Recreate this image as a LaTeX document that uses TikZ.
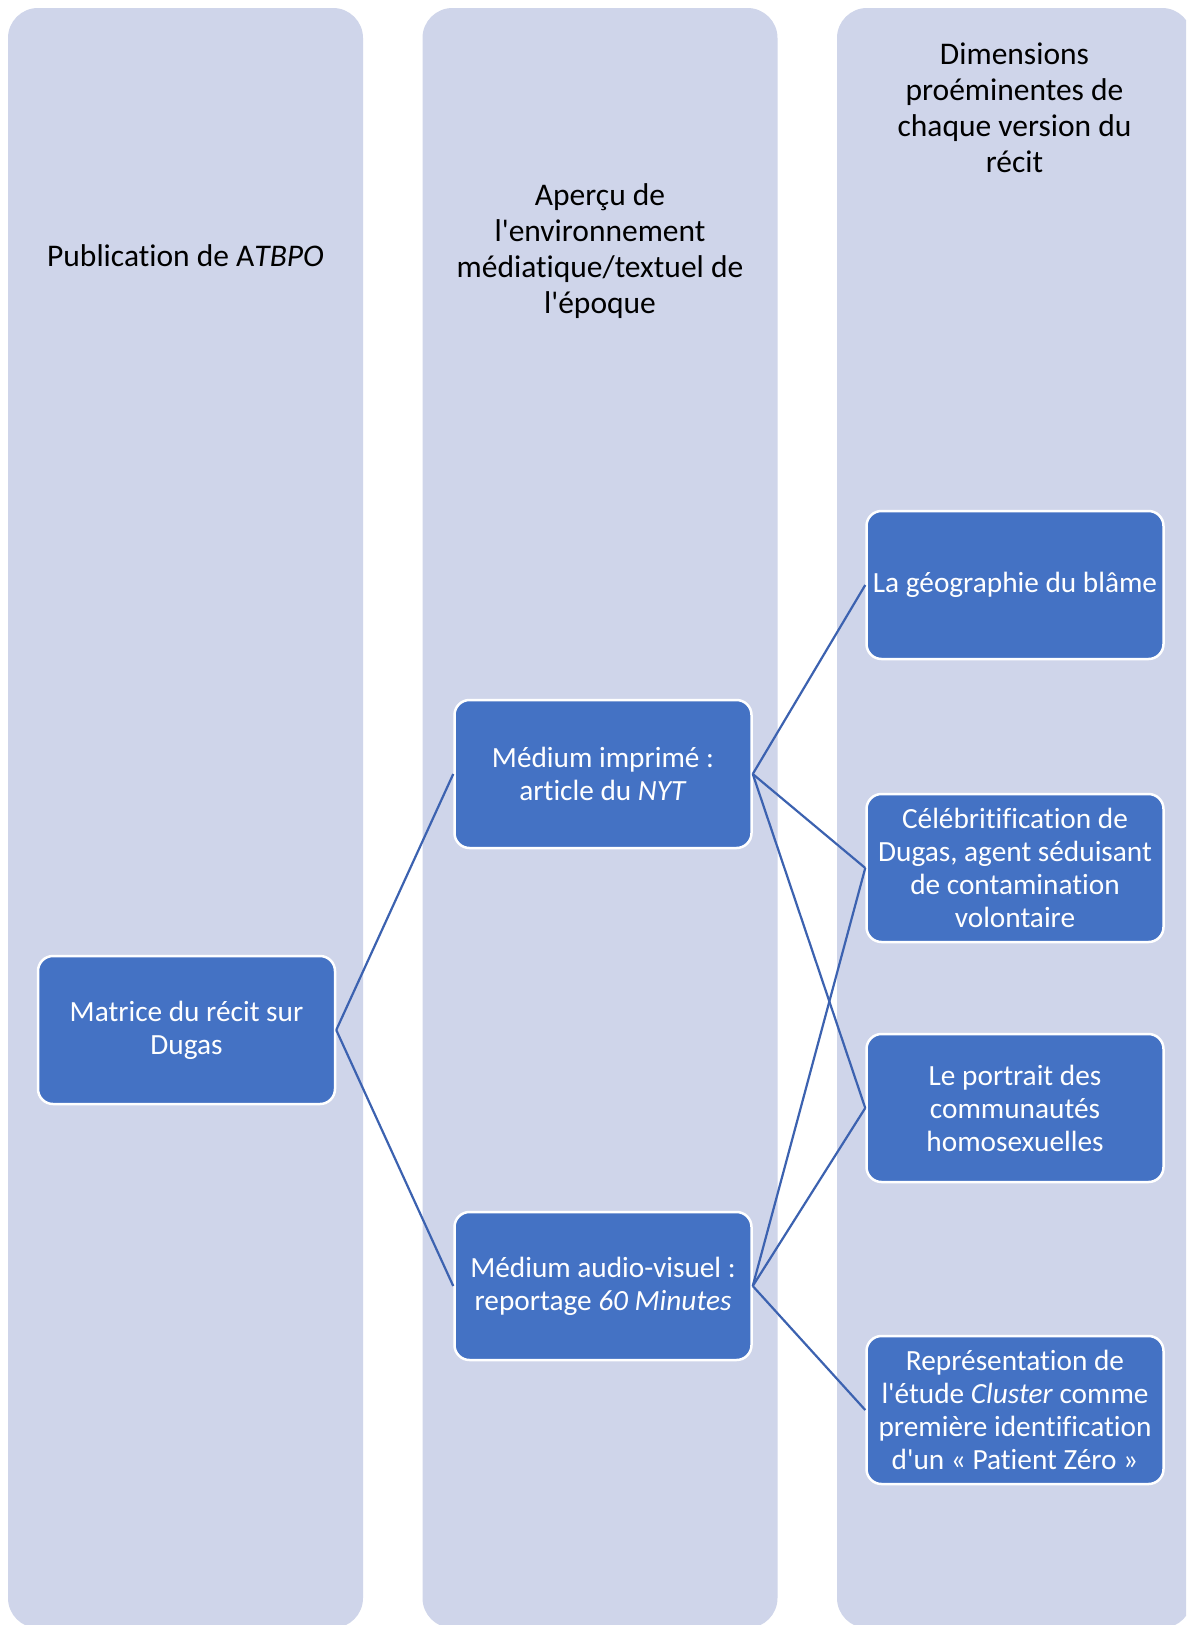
\documentclass[tikz,border=0pt]{standalone}
\usepackage{fontspec}
\setmainfont{Carlito}[Ligatures={NoCommon}]
\usepackage{tikz}

\definecolor{colbg}{HTML}{CFD5EA}
\definecolor{boxblue}{HTML}{4472C4}
\definecolor{linkblue}{HTML}{3C62B0}

\begin{document}
\begin{tikzpicture}[x=1pt, y=-1pt,
    column/.style={rounded corners=30pt, fill=colbg, minimum width=355pt, minimum height=1620pt, inner sep=0pt},
    header/.style={align=center, text=black, font=\fontsize{31.5}{36}\selectfont},
    item/.style={rounded corners=15pt, fill=boxblue, draw=white, line width=2.5pt, minimum width=297pt, minimum height=148pt, align=center, text=white, inner sep=4pt, font=\fontsize{29.3}{33}\selectfont},
    link/.style={draw=linkblue, line width=2.2pt}]
  \fill[white] (0,0) rectangle (1186,1625);
  \clip (0,0) rectangle (1186,1625);

  % the three columns
  \node[column] (colA) at (185.5,818) {};
  \node[column] (colB) at (600,818) {};
  \node[column] (colC) at (1014.5,818) {};

  \node[header] (headA) at (185.5,256) {Publication de A\textit{TBPO}};
  \node[header] (headB) at (600,251) {Aperçu de\\l\textquotesingle environnement\\médiatique/textuel de\\l\textquotesingle époque};
  \node[header] (headC) at (1014.5,108) {Dimensions\\proéminentes de\\chaque version du\\récit};

  % boxes
  \node[item] (matrice) at (186.5,1030) {Matrice du récit sur\\Dugas};
  \node[item] (print) at (603,774) {Médium imprimé :\\article du \textit{NYT}};
  \node[item] (video) at (603,1286) {Médium audio-visuel :\\reportage \textit{60 Minutes}};
  \node[item] (geo) at (1015,585) {La géographie du blâme};
  \node[item] (celeb) at (1015,868) {Célébritification de\\Dugas, agent séduisant\\de contamination\\volontaire};
  \node[item] (portrait) at (1015,1108) {Le portrait des\\communautés\\homosexuelles};
  \node[item] (cluster) at (1015,1410) {Représentation de\\l\textquotesingle étude \textit{Cluster} comme\\première identification\\d\textquotesingle un « Patient Zéro »};

  % connectors
  \draw[link] (matrice.east) -- (print.west);
  \draw[link] (matrice.east) -- (video.west);
  \draw[link] (print.east) -- (geo.west);
  \draw[link] (print.east) -- (celeb.west);
  \draw[link] (print.east) -- (portrait.west);
  \draw[link] (video.east) -- (celeb.west);
  \draw[link] (video.east) -- (portrait.west);
  \draw[link] (video.east) -- (cluster.west);
\end{tikzpicture}
\end{document}
